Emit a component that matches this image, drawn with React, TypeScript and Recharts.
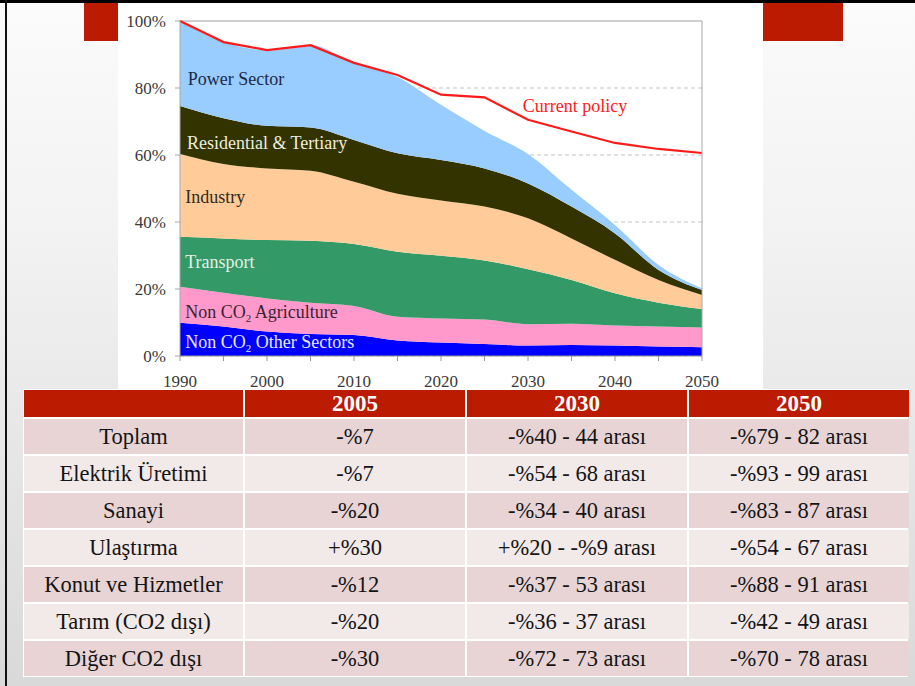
import React from "react";
import {
  ComposedChart,
  Area,
  Line,
  XAxis,
  YAxis,
  CartesianGrid,
  ReferenceLine,
  ReferenceDot,
} from "recharts";

// share of 1990 emissions, per sector (stacked bottom to top)
const years = [1990, 1995, 2000, 2005, 2010, 2015, 2020, 2025, 2030, 2035, 2040, 2045, 2050];
const nonCo2Other = [9.9, 8.8, 7.3, 6.6, 6.3, 4.6, 4.0, 3.6, 3.1, 3.3, 3.1, 2.8, 2.6];
const nonCo2Agri = [10.8, 10.1, 9.9, 9.3, 8.6, 7.1, 7.2, 7.3, 6.4, 6.3, 6.0, 6.0, 5.9];
const transport = [14.9, 16.2, 17.4, 18.5, 18.5, 19.4, 18.7, 17.6, 16.4, 13.1, 9.6, 7.1, 5.5];
const industry = [24.7, 22.2, 21.4, 20.9, 18.6, 17.3, 16.5, 16.1, 15.2, 12.4, 10.0, 6.8, 4.2];
const residential = [14.3, 13.7, 12.7, 12.9, 12.5, 12.1, 12.1, 11.4, 10.4, 9.5, 7.9, 3.0, 1.5];
const powerSector = [25.4, 22.7, 22.6, 24.6, 23.0, 22.8, 16.5, 11.2, 8.8, 5.0, 2.5, 1.5, 0.5];
const currentPolicy = [100, 93.7, 91.3, 92.8, 87.5, 83.9, 78.0, 77.2, 70.5, 67.0, 63.6, 61.8, 60.6];

const xTicks = [1990, 1995, 2000, 2005, 2010, 2015, 2020, 2025, 2030, 2035, 2040, 2045, 2050];
const yTicks = [0, 20, 40, 60, 80, 100];

// table
const tableYears = ["2005", "2030", "2050"];
const rowNames = [
  "Toplam",
  "Elektrik Üretimi",
  "Sanayi",
  "Ulaştırma",
  "Konut ve Hizmetler",
  "Tarım (CO2 dışı)",
  "Diğer CO2 dışı",
];
const col2005 = ["-%7", "-%7", "-%20", "+%30", "-%12", "-%20", "-%30"];
const col2030 = [
  "-%40 - 44 arası",
  "-%54 - 68 arası",
  "-%34 - 40 arası",
  "+%20 - -%9 arası",
  "-%37 - 53 arası",
  "-%36 - 37 arası",
  "-%72 - 73 arası",
];
const col2050 = [
  "-%79 - 82 arası",
  "-%93 - 99 arası",
  "-%83 - 87 arası",
  "-%54 - 67 arası",
  "-%88 - 91 arası",
  "-%42 - 49 arası",
  "-%70 - 78 arası",
];

const data = years.map((year, i) => ({
  year,
  nonCo2Other: nonCo2Other[i],
  nonCo2Agri: nonCo2Agri[i],
  transport: transport[i],
  industry: industry[i],
  residential: residential[i],
  powerSector: powerSector[i],
  currentPolicy: currentPolicy[i],
}));

const serif =
  "'Liberation Serif', 'Times New Roman', Times, Tinos, 'DejaVu Serif', 'Noto Serif', serif";

// in-chart labels, anchored in data coordinates
const tags = [
  { text: "Power Sector", year: 1990.9, level: 82.0, color: "#1c2a48", sub: false },
  { text: "Residential & Tertiary", year: 1990.8, level: 63.0, color: "#ededde", sub: false },
  { text: "Industry", year: 1990.6, level: 47.0, color: "#2e2a22", sub: false },
  { text: "Transport", year: 1990.6, level: 27.4, color: "#e4f0e6", sub: false },
  { text: "Non CO|Agriculture", year: 1990.6, level: 12.4, color: "#3a2430", sub: true },
  { text: "Non CO|Other Sectors", year: 1990.6, level: 3.5, color: "#e8e8ff", sub: true },
  { text: "Current policy", year: 2029.4, level: 74.0, color: "#ff2020", sub: false },
];

const tagContent = (t: (typeof tags)[number]) => (props: any) => {
  const vb = props.viewBox || {};
  const parts = t.text.split("|");
  return (
    <text
      x={vb.x}
      y={vb.y}
      dominantBaseline="middle"
      style={{ fontFamily: serif }}
      fontSize={18}
      fill={t.color}
    >
      {t.sub ? (
        <>
          <tspan>{parts[0]}</tspan>
          <tspan fontSize={11} dy={5}>2</tspan>
          <tspan dy={-5}>{" " + parts[1]}</tspan>
        </>
      ) : (
        t.text
      )}
    </text>
  );
};

function EmissionsChart() {
  const tickStyle = { fontSize: 17, fill: "#3a3a3a", style: { fontFamily: serif } };
  return (
    <ComposedChart
      width={645}
      height={392}
      data={data}
      margin={{ top: 17, right: 0, bottom: 0, left: 0 }}
      style={{ fontFamily: serif }}
    >
      <CartesianGrid
        yAxisId="left"
        vertical={false}
        stroke="#c4c4c4"
        strokeDasharray="4 3"
      />
      <XAxis
        dataKey="year"
        type="number"
        domain={[1990, 2050]}
        ticks={xTicks}
        tickFormatter={(v: number) => (v % 10 === 0 ? String(v) : "")}
        height={40}
        tickSize={5}
        tickMargin={14}
        stroke="#9a9a9a"
        tick={tickStyle}
        interval={0}
      />
      <YAxis
        yAxisId="left"
        domain={[0, 100]}
        ticks={yTicks}
        width={62}
        tickSize={5}
        tickMargin={9}
        stroke="#a8a8a8"
        tick={tickStyle}
        tickFormatter={(v: number) => v + "%"}
      />
      <YAxis
        yAxisId="right"
        orientation="right"
        domain={[0, 100]}
        ticks={yTicks}
        width={61}
        tickSize={5}
        tickMargin={9}
        stroke="#a8a8a8"
        tick={{ ...tickStyle, textAnchor: "start" }}
        tickFormatter={(v: number) => v + "%"}
      />
      <ReferenceLine yAxisId="left" y={100} stroke="#cfcfcf" strokeWidth={2} />
      <Area yAxisId="left" type="monotone" dataKey="nonCo2Other" stackId="a" stroke="none" fill="#0000ff" fillOpacity={1} isAnimationActive={false} />
      <Area yAxisId="left" type="monotone" dataKey="nonCo2Agri" stackId="a" stroke="none" fill="#ff99cc" fillOpacity={1} isAnimationActive={false} />
      <Area yAxisId="left" type="monotone" dataKey="transport" stackId="a" stroke="none" fill="#339966" fillOpacity={1} isAnimationActive={false} />
      <Area yAxisId="left" type="monotone" dataKey="industry" stackId="a" stroke="none" fill="#ffcc99" fillOpacity={1} isAnimationActive={false} />
      <Area yAxisId="left" type="monotone" dataKey="residential" stackId="a" stroke="none" fill="#333300" fillOpacity={1} isAnimationActive={false} />
      <Area yAxisId="left" type="monotone" dataKey="powerSector" stackId="a" stroke="none" fill="#99ccff" fillOpacity={1} isAnimationActive={false} />
      <Line yAxisId="left" type="linear" dataKey="currentPolicy" stroke="#ff1a1a" strokeWidth={2.2} dot={false} isAnimationActive={false} />
      {tags.map((t) => (
        <ReferenceDot
          key={t.text}
          yAxisId="left"
          x={t.year}
          y={t.level}
          r={0}
          fill="none"
          stroke="none"
          label={{ content: tagContent(t) }}
        />
      ))}
    </ComposedChart>
  );
}

function SummaryTable() {
  const cell: React.CSSProperties = {
    display: "flex",
    alignItems: "center",
    justifyContent: "center",
    fontFamily: serif,
    fontSize: 22.5,
    color: "#141414",
  };
  const rowBg = (i: number) => (i % 2 === 0 ? "#e8d4d5" : "#f2e9e9");
  return (
    <div
      style={{
        position: "absolute",
        left: 23,
        top: 389,
        width: 885,
        display: "grid",
        gridTemplateColumns: "219px 220px 220px 220px",
        gridTemplateRows: "27px repeat(7, 35px)",
        gap: 2,
        padding: 1,
        background: "#ffffff",
        boxSizing: "border-box",
      }}
    >
      <div style={{ background: "#bb1b00" }} />
      {tableYears.map((y) => (
        <div
          key={y}
          style={{ ...cell, background: "#bb1b00", color: "#fff", fontWeight: "bold", fontSize: 23 }}
        >
          {y}
        </div>
      ))}
      {rowNames.map((name, i) => (
        <React.Fragment key={name}>
          <div style={{ ...cell, background: rowBg(i) }}>{name}</div>
          <div style={{ ...cell, background: rowBg(i) }}>{col2005[i]}</div>
          <div style={{ ...cell, background: rowBg(i) }}>{col2030[i]}</div>
          <div style={{ ...cell, background: rowBg(i) }}>{col2050[i]}</div>
        </React.Fragment>
      ))}
    </div>
  );
}

export default function App() {
  return (
    <div
      style={{
        position: "absolute",
        left: 0,
        top: 0,
        width: 915,
        height: 686,
        overflow: "hidden",
        fontFamily: serif,
        background: "linear-gradient(to bottom, #fbfbfb 0%, #f2f2f2 35%, #d9d9d9 100%)",
      }}
    >
      <div style={{ position: "absolute", left: 0, top: 0, width: 915, height: 3, background: "#000" }} />
      <div style={{ position: "absolute", left: 5, top: 0, width: 2, height: 686, background: "#111" }} />
      <div style={{ position: "absolute", left: 84, top: 3, width: 34, height: 38, background: "#bb1b00" }} />
      <div style={{ position: "absolute", left: 763, top: 3, width: 80, height: 38, background: "#bb1b00" }} />
      <div style={{ position: "absolute", left: 118, top: 4, width: 645, height: 392, background: "#fff" }}>
        <EmissionsChart />
      </div>
      <SummaryTable />
    </div>
  );
}
